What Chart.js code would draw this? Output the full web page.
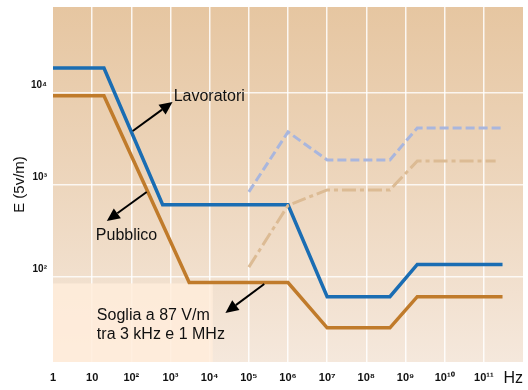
<!DOCTYPE html>
<html>
<head>
<meta charset="utf-8">
<script src="https://cdn.jsdelivr.net/npm/chart.js@4/dist/chart.umd.min.js"></script>
<style>
  html, body { margin: 0; padding: 0; background: #fff; }
  #wrap { width: 528px; height: 390px; position: relative; }
</style>
</head>
<body>
<div id="wrap"><canvas id="grafico"></canvas></div>
<script>
// limiti di esposizione al campo elettrico (Hz, V/m)
const freqLavoratori = [1, 20, 630, 1e6, 1e7, 4e8, 2e9, 3e11];
const campoLavoratori = [18700, 18700, 610, 610, 61, 61, 137, 137];

const freqPubblico = [1, 20, 3000, 1e6, 1e7, 4e8, 2e9, 3e11];
const campoPubblico = [9300, 9300, 87, 87, 28, 28, 61, 61];

// curve tratteggiate (picchi)
const freqPiccoLav = [1e5, 1e6, 1e7, 4e8, 2e9, 2.7e11];
const campoPiccoLav = [840, 3770, 1870, 1870, 4170, 4170];

const freqPiccoPub = [1e5, 1e6, 1e7, 4e8, 2e9, 2e11];
const campoPiccoPub = [128, 600, 883, 883, 1820, 1820];

const tickX = [1, 10, 1e2, 1e3, 1e4, 1e5, 1e6, 1e7, 1e8, 1e9, 1e10, 1e11];
const etichetteX = ['1', '10', '10²', '10³', '10⁴', '10⁵', '10⁶', '10⁷', '10⁸', '10⁹', '10¹⁰', '10¹¹'];
const tickY = [100, 1000, 10000];
const etichetteY = ['10²', '10³', '10⁴'];

function punti(xs, ys) {
  return xs.map((x, i) => ({ x: x, y: ys[i] }));
}

// note con freccia, posizioni in log10(Hz), log10(V/m)
const note = [
  { testo: ['Lavoratori'], tx: 3.08, ty: 3.957, da: [2.036, 3.587], a: [3.053, 3.902] },
  { testo: ['Pubblico'], tx: 1.094, ty: 2.446, da: [2.392, 2.924], a: [1.374, 2.609] },
  { testo: ['Soglia a 87 V/m', 'tra 3 kHz e 1 MHz'], tx: 1.12, ty: 1.576, da: [5.394, 1.924], a: [4.402, 1.609] }
];

const sfondo = {
  id: 'sfondo',
  beforeDraw(chart) {
    const { ctx, chartArea: ca } = chart;
    const g = ctx.createLinearGradient(0, ca.top, 0, ca.bottom);
    g.addColorStop(0, '#e6c6a1');
    g.addColorStop(0.5, '#edd6bd');
    g.addColorStop(1, '#f5e8dc');
    ctx.save();
    ctx.fillStyle = g;
    ctx.fillRect(ca.left, ca.top, ca.right - ca.left, ca.bottom - ca.top);
    ctx.restore();
  },
  beforeDatasetsDraw(chart) {
    // fascia chiara sotto la soglia
    const { ctx, chartArea: ca, scales } = chart;
    const xr = scales.x.getPixelForValue(1.2e4);
    const yt = scales.y.getPixelForValue(85);
    ctx.save();
    ctx.fillStyle = 'rgba(255, 236, 219, 0.85)';
    ctx.fillRect(ca.left, yt, xr - ca.left, ca.bottom - yt);
    ctx.restore();
  }
};

function freccia(ctx, x1, y1, x2, y2) {
  const ang = Math.atan2(y2 - y1, x2 - x1);
  const lung = 13, larg = 6;
  const bx = x2 - lung * Math.cos(ang), by = y2 - lung * Math.sin(ang);
  ctx.beginPath();
  ctx.moveTo(x1, y1);
  ctx.lineTo(bx, by);
  ctx.lineWidth = 2;
  ctx.strokeStyle = '#000';
  ctx.stroke();
  ctx.beginPath();
  ctx.moveTo(x2, y2);
  ctx.lineTo(bx + larg * Math.sin(ang), by - larg * Math.cos(ang));
  ctx.lineTo(bx - larg * Math.sin(ang), by + larg * Math.cos(ang));
  ctx.closePath();
  ctx.fillStyle = '#000';
  ctx.fill();
}

const annotazioni = {
  id: 'annotazioni',
  afterDraw(chart) {
    const { ctx, scales } = chart;
    const px = v => scales.x.getPixelForValue(Math.pow(10, v));
    const py = v => scales.y.getPixelForValue(Math.pow(10, v));
    ctx.save();
    note.forEach(n => {
      freccia(ctx, px(n.da[0]), py(n.da[1]), px(n.a[0]), py(n.a[1]));
      ctx.font = '16px "Liberation Sans", Arial, sans-serif';
      ctx.fillStyle = '#111';
      ctx.textAlign = 'left';
      ctx.textBaseline = 'middle';
      n.testo.forEach((riga, i) => {
        ctx.fillText(riga, px(n.tx), py(n.ty) + i * 19);
      });
    });
    ctx.restore();
  }
};

new Chart(document.getElementById('grafico'), {
  type: 'line',
  data: {
    datasets: [
      {
        label: 'Picco lavoratori',
        data: punti(freqPiccoLav, campoPiccoLav),
        borderColor: '#a9b6dd',
        borderWidth: 3,
        borderDash: [9, 4]
      },
      {
        label: 'Picco pubblico',
        data: punti(freqPiccoPub, campoPiccoPub),
        borderColor: '#dcbb94',
        borderWidth: 3,
        borderDash: [14, 4, 4, 4]
      },
      {
        label: 'Lavoratori',
        data: punti(freqLavoratori, campoLavoratori),
        borderColor: '#1a6db3',
        borderWidth: 3.5
      },
      {
        label: 'Pubblico',
        data: punti(freqPubblico, campoPubblico),
        borderColor: '#c07b2b',
        borderWidth: 3.5
      }
    ]
  },
  options: {
    responsive: true,
    maintainAspectRatio: false,
    animation: false,
    layout: { padding: { top: 7, right: 5, left: 0, bottom: 0 } },
    elements: { point: { radius: 0 }, line: { tension: 0, fill: false } },
    plugins: {
      legend: { display: false },
      tooltip: { enabled: false }
    },
    scales: {
      x: {
        type: 'logarithmic',
        min: 1,
        max: 1e12,
        afterBuildTicks(scale) {
          scale.ticks = tickX.map(v => ({ value: v }));
        },
        afterFit(scale) {
          scale.height = 28;
          scale.paddingLeft = 0;
          scale.paddingRight = 0;
        },
        ticks: {
          autoSkip: false,
          maxRotation: 0,
          padding: 9,
          color: '#111',
          font: { family: '"Liberation Sans", Arial, sans-serif', size: 11, weight: 'bold' },
          callback: (v, i) => etichetteX[i]
        },
        grid: {
          color: ctx => ctx.index === 0 ? 'rgba(0,0,0,0)' : 'rgba(255,255,255,0.85)',
          lineWidth: 1.5,
          drawTicks: false
        },
        border: { display: false },
        title: {
          display: true,
          text: 'Hz',
          align: 'end',
          color: '#111',
          font: { family: '"Liberation Sans", Arial, sans-serif', size: 16 },
          padding: { top: 0, bottom: 2 }
        }
      },
      y: {
        type: 'logarithmic',
        min: 11.9,
        max: 86000,
        afterBuildTicks(scale) {
          scale.ticks = tickY.map(v => ({ value: v }));
        },
        afterFit(scale) {
          scale.width = 53;
          scale.paddingTop = 0;
          scale.paddingBottom = 0;
        },
        ticks: {
          padding: 6,
          labelOffset: -8,
          color: '#111',
          font: { family: '"Liberation Sans", Arial, sans-serif', size: 10, weight: 'bold' },
          callback: (v, i) => etichetteY[i]
        },
        grid: {
          color: 'rgba(255,255,255,0.8)',
          lineWidth: 1.5,
          drawTicks: false
        },
        border: { display: false },
        title: {
          display: true,
          text: 'E (5v/m)',
          color: '#111',
          font: { family: '"Liberation Sans", Arial, sans-serif', size: 15 },
          padding: { top: 11, bottom: 0 }
        }
      }
    }
  },
  plugins: [sfondo, annotazioni]
});
</script>
</body>
</html>
